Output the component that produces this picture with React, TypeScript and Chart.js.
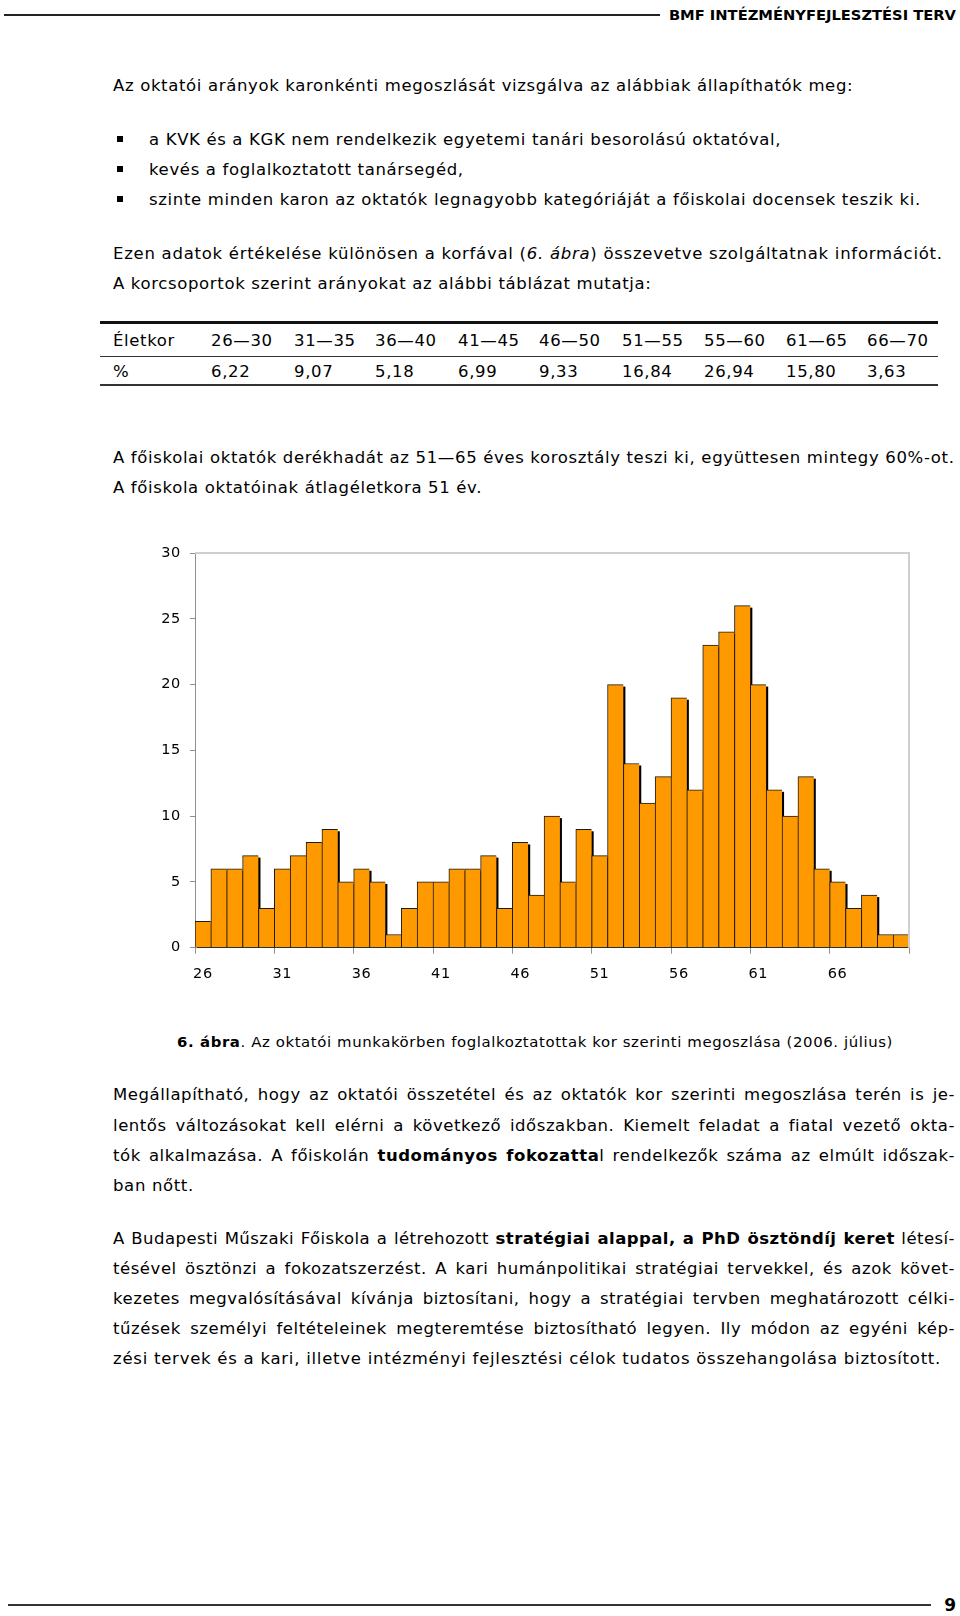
import React, { useEffect, useRef } from 'react';
import { Chart, registerables } from 'chart.js';

Chart.register(...registerables);

// ---- Chart data ----
const AGE_LABELS = [
  '26', '27', '28', '29', '30', '31', '32', '33', '34', '35',
  '36', '37', '38', '39', '40', '41', '42', '43', '44', '45',
  '46', '47', '48', '49', '50', '51', '52', '53', '54', '55',
  '56', '57', '58', '59', '60', '61', '62', '63', '64', '65',
  '66', '67', '68', '69', '70',
];
const COUNTS = [
  2, 6, 6, 7, 3, 6, 7, 8, 9, 5,
  6, 5, 1, 3, 5, 5, 6, 6, 7, 3,
  8, 4, 10, 5, 9, 7, 20, 14, 11, 13,
  19, 12, 23, 24, 26, 20, 12, 10, 13, 6,
  5, 3, 4, 1, 1,
];
const Y_MIN = 0;
const Y_MAX = 30;
const Y_STEP = 5;
const X_LABEL_EVERY = 5;

// ---- Table data ----
const TABLE_HEAD = ['Életkor', '26—30', '31—35', '36—40', '41—45', '46—50', '51—55', '55—60', '61—65', '66—70'];
const TABLE_VALUES = ['%', '6,22', '9,07', '5,18', '6,99', '9,33', '16,84', '26,94', '15,80', '3,63'];
const TABLE_COL_X = [113, 211, 294, 375, 458, 539, 622, 704, 786, 867];

const FONT = '"DejaVu Sans", sans-serif';
const BODY_SIZE = 16.5;
const BODY_SPACING = '0.65px';

function Txt({ x, y, children, style }: any) {
  return (
    <div
      style={{
        position: 'absolute',
        left: x,
        top: y - 11,
        height: 22,
        lineHeight: '22px',
        whiteSpace: 'nowrap',
        ...style,
      }}
    >
      {children}
    </div>
  );
}

function Just({ x, y, w, children, style }: any) {
  return (
    <div
      style={{
        position: 'absolute',
        left: x,
        top: y - 11,
        width: w,
        height: 22,
        lineHeight: '22px',
        whiteSpace: 'nowrap',
        textAlign: 'justify',
        textAlignLast: 'justify',
        ...style,
      }}
    >
      {children}
    </div>
  );
}

function Bullet({ y }: any) {
  return (
    <div
      style={{
        position: 'absolute',
        left: 117,
        top: y - 3,
        width: 6,
        height: 6,
        background: '#000',
      }}
    />
  );
}

function AgeChart() {
  const ref = useRef<HTMLCanvasElement>(null);
  useEffect(() => {
    if (!ref.current) return;
    const shadowPlugin = {
      id: 'barShadow',
      beforeDatasetsDraw(chart: any) {
        const ctx = chart.ctx;
        const meta = chart.getDatasetMeta(0);
        const area = chart.chartArea;
        ctx.save();
        ctx.beginPath();
        ctx.rect(area.left, area.top, area.right - area.left, area.bottom - area.top);
        ctx.clip();
        ctx.fillStyle = '#000';
        meta.data.forEach((bar: any) => {
          const p = bar.getProps(['x', 'y', 'base', 'width'], true);
          const left = p.x - p.width / 2;
          ctx.fillRect(left + 2, p.y + 2, p.width, p.base - p.y);
        });
        ctx.restore();
      },
    };
    const framePlugin = {
      id: 'plotFrame',
      afterDraw(chart: any) {
        const ctx = chart.ctx;
        const a = chart.chartArea;
        ctx.save();
        ctx.strokeStyle = '#cfcfcf';
        ctx.lineWidth = 2;
        ctx.beginPath();
        ctx.moveTo(a.left, a.top);
        ctx.lineTo(a.right, a.top);
        ctx.lineTo(a.right, a.bottom);
        ctx.stroke();
        ctx.restore();
      },
    };
    const chart = new Chart(ref.current, {
      type: 'bar',
      data: {
        labels: AGE_LABELS,
        datasets: [
          {
            data: COUNTS,
            backgroundColor: '#FF9900',
            borderColor: '#1a1a1a',
            borderWidth: { top: 1, left: 1, right: 0, bottom: 0 },
            borderSkipped: false,
            barPercentage: 1,
            categoryPercentage: 1,
          },
        ],
      },
      options: {
        animation: false,
        responsive: false,
        devicePixelRatio: 1,
        events: [],
        layout: { padding: { top: 23, right: 21, left: 0, bottom: 0 } },
        plugins: {
          legend: { display: false },
          tooltip: { enabled: false },
          title: { display: false },
        },
        scales: {
          x: {
            type: 'category',
            offset: true,
            grid: {
              offset: true,
              drawOnChartArea: false,
              drawTicks: true,
              tickLength: 6,
              color: (c: any) =>
                c.index === undefined || c.index % X_LABEL_EVERY === 0 ? '#8f8f8f' : 'rgba(0,0,0,0)',
            },
            border: { display: true, color: '#8f8f8f', width: 1 },
            ticks: {
              autoSkip: false,
              maxRotation: 0,
              minRotation: 0,
              padding: 12,
              color: '#000',
              font: { family: FONT, size: 14.5 },
              callback: (_v: any, i: number) => (i % X_LABEL_EVERY === 0 ? AGE_LABELS[i] : ''),
            },
            afterFit: (s: any) => {
              s.height = 52.3;
            },
          },
          y: {
            min: Y_MIN,
            max: Y_MAX,
            grid: {
              drawOnChartArea: false,
              drawTicks: true,
              tickLength: 5,
              color: '#8f8f8f',
            },
            border: { display: true, color: '#8f8f8f', width: 1 },
            ticks: {
              stepSize: Y_STEP,
              padding: 9,
              color: '#000',
              font: { family: FONT, size: 14.5 },
            },
            afterFit: (s: any) => {
              s.width = 45;
            },
          },
        },
      },
      plugins: [shadowPlugin, framePlugin],
    });
    return () => chart.destroy();
  }, []);
  return (
    <canvas
      ref={ref}
      width={780}
      height={470}
      style={{ position: 'absolute', left: 150, top: 530, width: 780, height: 470 }}
    />
  );
}

export default function App() {
  return (
    <div
      style={{
        position: 'absolute',
        left: 0,
        top: 0,
        width: 960,
        height: 1616,
        background: '#fff',
        fontFamily: FONT,
        fontSize: BODY_SIZE,
        letterSpacing: BODY_SPACING,
        color: '#000',
        overflow: 'hidden',
      }}
    >
      {/* header */}
      <div style={{ position: 'absolute', left: 4, top: 14, width: 656, height: 2, background: '#222' }} />
      <div
        style={{
          position: 'absolute',
          right: 4,
          top: 4,
          height: 22,
          lineHeight: '22px',
          fontWeight: 'bold',
          fontSize: 14.7,
          letterSpacing: 0,
          whiteSpace: 'nowrap',
        }}
      >
        BMF INTÉZMÉNYFEJLESZTÉSI TERV
      </div>

      <Txt x={113} y={86}>Az oktatói arányok karonkénti megoszlását vizsgálva az alábbiak állapíthatók meg:</Txt>

      <Bullet y={139} />
      <Txt x={149} y={140}>a KVK és a KGK nem rendelkezik egyetemi tanári besorolású oktatóval,</Txt>
      <Bullet y={169} />
      <Txt x={149} y={170}>kevés a foglalkoztatott tanársegéd,</Txt>
      <Bullet y={199} />
      <Txt x={149} y={200}>szinte minden karon az oktatók legnagyobb kategóriáját a főiskolai docensek teszik ki.</Txt>

      <Txt x={113} y={254} style={{ letterSpacing: '0.73px' }}>
        Ezen adatok értékelése különösen a korfával (<i>6. ábra</i>) összevetve szolgáltatnak információt.
      </Txt>
      <Txt x={113} y={284}>A korcsoportok szerint arányokat az alábbi táblázat mutatja:</Txt>

      {/* table */}
      <div style={{ position: 'absolute', left: 100, top: 321, width: 838, height: 3, background: '#111' }} />
      <div style={{ position: 'absolute', left: 100, top: 356, width: 838, height: 1, background: '#333' }} />
      <div style={{ position: 'absolute', left: 100, top: 384, width: 838, height: 2, background: '#333' }} />
      {TABLE_HEAD.map((t, i) => (
        <Txt key={'h' + i} x={TABLE_COL_X[i]} y={341}>
          {t}
        </Txt>
      ))}
      {TABLE_VALUES.map((t, i) => (
        <Txt key={'v' + i} x={TABLE_COL_X[i]} y={372}>
          {t}
        </Txt>
      ))}

      <Txt x={113} y={458}>
        A főiskolai oktatók derékhadát az 51—65 éves korosztály teszi ki, együttesen mintegy 60%-ot.
      </Txt>
      <Txt x={113} y={488}>A főiskola oktatóinak átlagéletkora 51 év.</Txt>

      <AgeChart />

      <Txt x={177} y={1042} style={{ fontSize: 14.9, letterSpacing: '0.6px' }}>
        <b>6. ábra</b>. Az oktatói munkakörben foglalkoztatottak kor szerinti megoszlása (2006. július)
      </Txt>

      <Just x={113} y={1095} w={842} style={{ letterSpacing: '0.55px' }}>
        Megállapítható, hogy az oktatói összetétel és az oktatók kor szerinti megoszlása terén is je-
      </Just>
      <Just x={113} y={1126} w={842} style={{ letterSpacing: '0.55px' }}>
        lentős változásokat kell elérni a következő időszakban. Kiemelt feladat a fiatal vezető okta-
      </Just>
      <Just x={113} y={1156} w={842} style={{ letterSpacing: '0.55px' }}>
        tók alkalmazása. A főiskolán <b>tudományos fokozatta</b>l rendelkezők száma az elmúlt időszak-
      </Just>
      <Txt x={113} y={1186}>ban nőtt.</Txt>

      <Just x={113} y={1239} w={842} style={{ letterSpacing: '0.45px' }}>
        A Budapesti Műszaki Főiskola a létrehozott <b>stratégiai alappal, a PhD ösztöndíj keret</b> létesí-
      </Just>
      <Just x={113} y={1269} w={842} style={{ letterSpacing: '0.55px' }}>
        tésével ösztönzi a fokozatszerzést. A kari humánpolitikai stratégiai tervekkel, és azok követ-
      </Just>
      <Just x={113} y={1299} w={842} style={{ letterSpacing: '0.55px' }}>
        kezetes megvalósításával kívánja biztosítani, hogy a stratégiai tervben meghatározott célki-
      </Just>
      <Just x={113} y={1329} w={842} style={{ letterSpacing: '0.55px' }}>
        tűzések személyi feltételeinek megteremtése biztosítható legyen. Ily módon az egyéni kép-
      </Just>
      <Txt x={113} y={1359} style={{ letterSpacing: '0.75px' }}>
        zési tervek és a kari, illetve intézményi fejlesztési célok tudatos összehangolása biztosított.
      </Txt>

      {/* footer */}
      <div style={{ position: 'absolute', left: 8, top: 1604, width: 923, height: 2, background: '#333' }} />
      <div
        style={{
          position: 'absolute',
          right: 4,
          top: 1594,
          height: 22,
          lineHeight: '22px',
          fontWeight: 'bold',
          fontSize: 17,
          letterSpacing: 0,
        }}
      >
        9
      </div>
    </div>
  );
}
